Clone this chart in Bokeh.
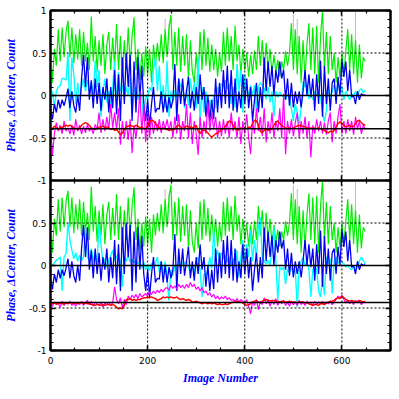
from bokeh.plotting import figure
from bokeh.layouts import column
from bokeh.models import FixedTicker, Span, LinearAxis, Range1d
from bokeh.embed import file_html
from bokeh.resources import INLINE

# ---------------- data ----------------
image_number = list(range(0, 652, 4))

count_green = [
    0.5, 0.15, 0.55, 0.35, 0.78, 0.4, 0.8, 0.45, 0.75, 0.88,
    0.45, 0.8, 0.38, 0.72, 0.42, 0.78, 0.35, 0.75, 0.4, 0.62,
    0.3, 0.93, 0.4, 0.7, 0.28, 0.65, 0.35, 0.72, 0.25, 0.6,
    0.75, 0.3, 0.68, 0.35, 0.84, 0.3, 0.7, 0.22, 0.65, 0.3,
    0.8, 0.35, 0.7, 0.92, 0.3, 0.55, 0.18, 0.5, 0.22, 0.58,
    0.25, 0.55, 0.15, 0.6, 0.35, 0.62, 0.4, 0.72, 0.38, 0.78,
    0.45, 0.8, 0.95, 0.3, 0.75, 0.35, 0.8, 0.28, 0.7, 0.35,
    0.72, 0.2, 0.65, 0.28, 0.15, 0.5, 0.2, 0.75, 0.3, 0.78,
    0.35, 0.68, 0.28, 0.6, 0.3, 0.55, 0.22, 0.5, 0.28, 0.75,
    0.35, 0.8, 0.4, 0.7, 0.3, 0.82, 0.4, 0.6, 0.25, 0.55,
    0.3, 0.5, 0.22, 0.48, 0.25, 0.53, 0.3, 0.7, 0.35, 0.65,
    0.28, 0.62, 0.3, 0.55, 0.25, 0.48, 0.28, 0.42, 0.22, 0.4,
    0.3, 0.52, 0.35, 0.5, 0.85, 0.3, 0.78, 0.25, 0.7, 0.15,
    0.65, 0.2, 0.6, 0.85, 0.3, 0.8, 0.25, 0.82, 0.15, 0.7,
    1.0, 0.3, 0.75, 0.25, 0.7, 0.3, 0.5, 0.15, 0.45, 0.2,
    0.5, 0.25, 0.52, 0.78, 0.3, 0.72, 0.25, 0.65, 0.15, 0.6, 0.2, 0.45, 0.4,
]

phase_blue = [
    -0.15, -0.28, -0.1, -0.2, -0.05, -0.15, -0.05, -0.12, -0.03, 0.08,
    -0.15, 0.05, -0.12, -0.2, 0.0, -0.18, 0.2, 0.48, 0.1, 0.45,
    -0.05, 0.18, -0.15, 0.2, -0.1, 0.15, -0.18, 0.1, -0.05, 0.2,
    -0.2, 0.1, -0.15, 0.3, -0.22, 0.25, -0.3, 0.45, -0.1, 0.5,
    0.1, 0.48, -0.3, 0.4, -0.2, 0.45, -0.05, 0.35, -0.1, -0.3,
    -0.05, -0.37, -0.1, 0.1, -0.2, -0.15, -0.16, 0.05, -0.2, 0.0,
    -0.2, -0.02, -0.15, -0.05, 0.37, -0.3, 0.2, -0.1, 0.2, -0.12,
    0.05, 0.22, -0.15, 0.05, -0.18, 0.1, -0.1, 0.25, -0.05, 0.1,
    -0.25, 0.0, -0.3, -0.05, -0.28, 0.2, -0.2, 0.15, -0.15, 0.3,
    -0.1, 0.35, -0.15, 0.3, -0.18, 0.2, -0.2, 0.05, -0.15, 0.25,
    -0.1, 0.2, -0.15, 0.1, -0.3, -0.05, 0.15, -0.2, 0.1, -0.15,
    0.45, 0.05, 0.4, 0.1, 0.35, 0.0, 0.3, 0.15, 0.4, 0.2,
    0.3, -0.05, 0.2, -0.12, 0.15, -0.14, 0.05, -0.1, 0.05, -0.14,
    0.05, 0.3, 0.0, 0.25, -0.02, 0.2, -0.18, 0.25, -0.1, 0.41,
    -0.25, 0.35, -0.1, 0.2, -0.18, 0.15, 0.2, -0.1, 0.22, 0.0,
    0.41, 0.22, 0.4, 0.05, 0.3, -0.02, 0.0, -0.1, 0.05, -0.05, 0.02, 0.0, 0.01,
]

cyan_top = [
    -0.05, 0.05, -0.15, 0.05, 0.1, 0.12, 0.2, 0.2, 0.18, 0.5,
    -0.3, 0.45, 0.25, -0.1, 0.15, -0.05, 0.1, 0.2, 0.05, 0.18,
    0.05, 0.15, -0.02, 0.41, 0.1, 0.3, -0.25, 0.05, 0.2, -0.08,
    0.05, -0.18, 0.08, 0.4, -0.1, 0.28, 0.05, 0.12, -0.05, 0.1,
    0.0, 0.2, -0.22, 0.05, 0.1, -0.05, 0.08, -0.02, -0.3, 0.0,
    -0.05, 0.1, 0.05, 0.3, 0.45, 0.05, 0.35, -0.1, 0.12, -0.15,
    0.41, -0.25, 0.05, -0.08, 0.06, -0.02, 0.2, 0.1, 0.15, -0.15,
    0.08, -0.12, 0.2, 0.0, 0.15, -0.15, 0.45, -0.33, 0.1, -0.2,
    0.05, -0.22, -0.05, -0.2, 0.0, -0.15, 0.1, 0.05, 0.14, 0.1,
    0.18, 0.08, 0.14, -0.1, 0.1, -0.14, 0.37, 0.05, 0.3, -0.2,
    0.25, 0.1, -0.02, 0.12, 0.0, 0.12, -0.18, 0.1, 0.15, 0.12,
    0.08, -0.05, 0.1, -0.08, 0.05, -0.25, 0.05, -0.02, 0.04, 0.0,
    -0.02, -0.05, 0.02, -0.04, -0.15, -0.3, -0.1, -0.2, -0.33, -0.15,
    0.16, 0.1, 0.15, -0.04, 0.0, -0.05, 0.05, 0.0, 0.04, -0.02,
    -0.2, -0.31, -0.18, 0.08, -0.02, 0.05, 0.12, 0.02, 0.14, 0.05,
    0.1, -0.05, 0.05, 0.0, -0.05, 0.02, 0.0, 0.05, -0.02, 0.06, 0.08, 0.03, 0.06,
]

cyan_bottom = [
    0.02, 0.0, 0.03, 0.06, 0.08, 0.1, -0.3, 0.1, 0.14, 0.5,
    0.3, 0.18, 0.08, 0.15, 0.05, 0.12, 0.06, 0.1, 0.45, 0.1,
    0.05, 0.2, 0.05, 0.15, 0.04, 0.5, 0.25, 0.02, 0.08, -0.02,
    0.06, 0.12, 0.18, 0.05, 0.1, 0.14, 0.04, -0.25, 0.1, 0.05,
    0.12, 0.04, 0.07, 0.03, 0.06, 0.02, 0.05, -0.03, 0.04, -0.05,
    0.0, -0.06, 0.03, -0.04, 0.02, 0.1, -0.08, 0.05, -0.1, 0.05,
    -0.15, -0.41, -0.05, -0.12, 0.0, -0.05, 0.05, -0.02, 0.04, 0.02,
    0.05, -0.02, -0.08, 0.0, -0.1, 0.05, 0.1, -0.05, -0.37, -0.1,
    -0.12, -0.05, 0.1, -0.04, 0.41, 0.1, 0.18, 0.05, 0.15, 0.08,
    0.12, 0.04, 0.1, 0.0, 0.08, -0.02, 0.18, -0.14, 0.1, 0.3,
    0.05, 0.25, 0.1, 0.41, 0.05, 0.3, 0.08, 0.45, 0.57, 0.1,
    0.05, 0.02, 0.06, 0.0, 0.2, 0.45, 0.05, -0.41, -0.02, -0.05,
    -0.02, -0.22, -0.04, -0.08, -0.02, -0.1, -0.05, -0.49, -0.02, 0.05,
    0.1, 0.0, 0.04, -0.04, -0.37, -0.05, 0.0, -0.05, -0.3, -0.37,
    -0.15, -0.35, 0.1, 0.02, 0.08, -0.33, 0.05, 0.1, 0.02, 0.08,
    0.04, 0.02, -0.02, 0.01, -0.03, -0.05, 0.0, -0.06, -0.02, 0.05, 0.1, 0.06, 0.02,
]

magenta_top = [
    -0.35, -0.7, -0.45, -0.32, -0.42, -0.35, -0.45, -0.3, -0.42, -0.38,
    -0.45, -0.35, -0.47, -0.28, -0.42, -0.35, -0.45, -0.36, -0.44, -0.34,
    -0.42, -0.38, -0.45, -0.34, -0.4, -0.2, -0.44, -0.28, -0.42, -0.25,
    -0.4, -0.1, -0.38, -0.2, -0.4, -0.15, -0.58, -0.3, -0.5, -0.3,
    -0.52, -0.28, -0.68, -0.35, -0.5, -0.3, 0.05, -0.45, -0.1, -0.55,
    -0.2, -0.5, -0.25, -0.45, -0.3, -0.42, -0.28, -0.44, -0.3, -0.4,
    -0.28, -0.42, -0.3, -0.5, -0.25, -0.45, -0.22, -0.52, -0.3, -0.42,
    -0.1, -0.5, -0.2, -0.57, -0.3, -0.45, -0.7, -0.25, -0.5, -0.3,
    -0.45, -0.08, -0.42, -0.2, -0.4, -0.25, -0.5, -0.3, -0.48, -0.28,
    -0.45, -0.3, -0.5, -0.2, -0.42, -0.3, -0.5, -0.25, -0.57, -0.3,
    -0.45, -0.22, -0.5, -0.69, -0.3, -0.45, -0.15, -0.42, -0.25, -0.48,
    -0.15, -0.55, -0.3, -0.45, -0.2, -0.5, -0.3, -0.42, -0.15, -0.5,
    0.02, -0.69, -0.3, -0.45, -0.28, -0.48, -0.32, -0.2, -0.5, -0.3,
    -0.45, -0.25, -0.5, -0.3, -0.73, -0.35, -0.45, -0.28, -0.42, -0.3,
    -0.45, -0.32, -0.46, -0.3, -0.2, -0.55, -0.3, -0.45, -0.25, -0.1,
    -0.45, -0.3, -0.45, -0.28, -0.42, -0.3, -0.46, -0.25, -0.4, -0.3, -0.45, -0.35, -0.4,
]

red_top = [
    -0.38, -0.39, -0.36, -0.38, -0.4, -0.37, -0.38, -0.36, -0.35, -0.36,
    -0.35, -0.36, -0.38, -0.39, -0.4, -0.38, -0.35, -0.33, -0.32, -0.33,
    -0.35, -0.38, -0.39, -0.4, -0.39, -0.37, -0.37, -0.36, -0.38, -0.37,
    -0.38, -0.4, -0.39, -0.41, -0.4, -0.43, -0.46, -0.44, -0.4, -0.37,
    -0.36, -0.35, -0.36, -0.37, -0.35, -0.36, -0.38, -0.37, -0.39, -0.39,
    -0.36, -0.31, -0.29, -0.3, -0.33, -0.35, -0.38, -0.4, -0.38, -0.39,
    -0.4, -0.41, -0.4, -0.41, -0.39, -0.36, -0.35, -0.37, -0.39, -0.38,
    -0.36, -0.37, -0.37, -0.38, -0.37, -0.35, -0.42, -0.45, -0.41, -0.41,
    -0.42, -0.44, -0.47, -0.49, -0.47, -0.45, -0.44, -0.42, -0.4, -0.39,
    -0.36, -0.33, -0.3, -0.31, -0.35, -0.38, -0.41, -0.4, -0.38, -0.39,
    -0.38, -0.39, -0.37, -0.38, -0.33, -0.29, -0.3, -0.35, -0.42, -0.44,
    -0.41, -0.4, -0.41, -0.39, -0.4, -0.35, -0.31, -0.3, -0.33, -0.35,
    -0.37, -0.38, -0.39, -0.38, -0.39, -0.38, -0.37, -0.36, -0.35, -0.36,
    -0.36, -0.37, -0.38, -0.39, -0.38, -0.39, -0.38, -0.39, -0.38, -0.39,
    -0.4, -0.41, -0.43, -0.44, -0.42, -0.43, -0.41, -0.37, -0.33, -0.31,
    -0.33, -0.35, -0.37, -0.36, -0.35, -0.37, -0.36, -0.33, -0.3, -0.29, -0.32, -0.34, -0.35,
]

magenta_bottom = [
    -0.45, -0.48, -0.43, -0.46, -0.44, -0.49, -0.42, -0.47, -0.44, -0.45,
    -0.42, -0.47, -0.44, -0.48, -0.43, -0.46, -0.42, -0.47, -0.44, -0.41,
    -0.46, -0.42, -0.48, -0.43, -0.45, -0.47, -0.43, -0.49, -0.44, -0.46,
    -0.43, -0.47, -0.44, -0.25, -0.4, -0.45, -0.38, -0.5, -0.4, -0.46,
    -0.36, -0.4, -0.35, -0.38, -0.34, -0.39, -0.33, -0.37, -0.35, -0.33,
    -0.36, -0.31, -0.34, -0.3, -0.33, -0.29, -0.32, -0.28, -0.31, -0.27,
    -0.26, -0.29, -0.23, -0.27, -0.24, -0.28, -0.22, -0.26, -0.23, -0.27,
    -0.22, -0.26, -0.2, -0.25, -0.22, -0.28, -0.25, -0.3, -0.26, -0.32,
    -0.3, -0.35, -0.32, -0.37, -0.34, -0.39, -0.36, -0.4, -0.37, -0.39,
    -0.36, -0.4, -0.38, -0.41, -0.4, -0.42, -0.39, -0.43, -0.4, -0.42,
    -0.45, -0.4, -0.48, -0.57, -0.42, -0.47, -0.4, -0.52, -0.42, -0.46,
    -0.38, -0.45, -0.4, -0.48, -0.41, -0.46, -0.39, -0.47, -0.42, -0.45,
    -0.41, -0.47, -0.43, -0.48, -0.42, -0.46, -0.43, -0.47, -0.41, -0.46,
    -0.43, -0.47, -0.42, -0.45, -0.43, -0.47, -0.42, -0.46, -0.43, -0.45,
    -0.42, -0.46, -0.43, -0.45, -0.42, -0.46, -0.43, -0.4, -0.36, -0.38,
    -0.35, -0.4, -0.44, -0.41, -0.45, -0.42, -0.46, -0.41, -0.44, -0.42, -0.46, -0.43, -0.44,
]

red_bottom = [
    -0.45, -0.45, -0.44, -0.45, -0.45, -0.44, -0.45, -0.45, -0.44, -0.45,
    -0.44, -0.44, -0.45, -0.44, -0.45, -0.44, -0.44, -0.45, -0.44, -0.45,
    -0.45, -0.46, -0.46, -0.47, -0.46, -0.46, -0.47, -0.46, -0.47, -0.46,
    -0.46, -0.47, -0.46, -0.47, -0.49, -0.51, -0.5, -0.51, -0.47, -0.4,
    -0.4, -0.39, -0.41, -0.4, -0.41, -0.4, -0.4, -0.39, -0.38, -0.38,
    -0.37, -0.38, -0.37, -0.38, -0.39, -0.41, -0.4, -0.39, -0.37, -0.38,
    -0.37, -0.38, -0.37, -0.38, -0.38, -0.37, -0.39, -0.4, -0.39, -0.4,
    -0.41, -0.4, -0.41, -0.43, -0.43, -0.42, -0.43, -0.44, -0.45, -0.44,
    -0.44, -0.45, -0.44, -0.45, -0.44, -0.45, -0.46, -0.45, -0.46, -0.46,
    -0.45, -0.46, -0.45, -0.44, -0.43, -0.43, -0.42, -0.43, -0.43, -0.44,
    -0.46, -0.47, -0.46, -0.45, -0.43, -0.42, -0.41, -0.43, -0.44, -0.42,
    -0.41, -0.4, -0.41, -0.42, -0.41, -0.41, -0.42, -0.42, -0.43, -0.42,
    -0.42, -0.43, -0.43, -0.42, -0.43, -0.43, -0.43, -0.44, -0.43, -0.43,
    -0.43, -0.44, -0.44, -0.45, -0.46, -0.47, -0.46, -0.46, -0.47, -0.45,
    -0.45, -0.46, -0.44, -0.43, -0.42, -0.42, -0.41, -0.39, -0.38, -0.39,
    -0.36, -0.38, -0.4, -0.41, -0.42, -0.41, -0.42, -0.43, -0.42, -0.41, -0.42, -0.43, -0.42,
]

# thin grey spikes (raw count) visible behind the green trace
gray_x = [236, 244, 500, 508, 628]
gray_lo = [0.5, 0.5, 0.5, 0.5, 0.6]
gray_hi = [0.9, 0.85, 0.95, 0.9, 1.0]

ref_level_top = -0.39
ref_level_bottom = -0.435
zero_level = 0.0
dotted_levels = [-0.5, 0.5]
dotted_x = [200, 400, 600]

y_ticks_top = [-1, -0.5, 0, 0.5, 1]
y_ticks_bottom = [-1, -0.5, 0, 0.5]       # "1" is hidden under the top panel's "-1"
y_minor = [-0.9, -0.8, -0.7, -0.6, -0.4, -0.3, -0.2, -0.1,
           0.1, 0.2, 0.3, 0.4, 0.6, 0.7, 0.8, 0.9]
x_ticks = [0, 200, 400, 600]
x_minor = [50, 100, 150, 250, 300, 350, 450, 500, 550, 650, 700]

y_label = "Phase, \u0394Center, Count"
x_label = "Image Number"

TICK_FONT = "DejaVu Sans"
LABEL_FONT = "Liberation Serif"
OVERLAP = 6  # px by which the lower panel slides up under the upper one's border


def style_axis(ax, ticks, minor, show_labels):
    ax.ticker = FixedTicker(ticks=ticks, minor_ticks=minor)
    ax.axis_line_width = 2
    ax.axis_line_color = "black"
    ax.major_tick_in = 5
    ax.major_tick_out = 0
    ax.minor_tick_in = 3
    ax.minor_tick_out = 0
    ax.major_tick_line_width = 1.5
    ax.minor_tick_line_width = 1.2
    ax.major_tick_line_color = "black"
    ax.minor_tick_line_color = "black"
    if show_labels:
        ax.major_label_text_font = TICK_FONT
        ax.major_label_text_font_size = "9px"
        ax.major_label_text_color = "black"
    else:
        ax.major_label_text_font_size = "0px"
        ax.major_label_text_alpha = 0
        ax.major_label_text_color = None
        ax.major_label_standoff = 0


def make_panel(cyan, magenta, red, ref_level, is_bottom):
    kw = {}
    if is_bottom:
        kw["styles"] = {"margin-top": f"-{OVERLAP}px"}
    p = figure(
        frame_width=340, frame_height=170,
        x_range=Range1d(0, 700), y_range=Range1d(-1, 1),
        output_backend="svg", toolbar_location=None,
        x_axis_location=None, y_axis_location=None,
        min_border_left=49, min_border_right=2,
        min_border_top=0 if is_bottom else 10,
        min_border_bottom=0 if is_bottom else OVERLAP,
        background_fill_color="white",
        border_fill_color="white", border_fill_alpha=0.0 if is_bottom else 1.0,
        **kw,
    )
    p.outline_line_color = "black"
    p.outline_line_width = 2
    p.xgrid.visible = False
    p.ygrid.visible = False

    yl = LinearAxis()
    style_axis(yl, y_ticks_bottom if is_bottom else y_ticks_top, y_minor, True)
    yl.major_label_overrides = {1: "1", 0.5: "0.5", 0: "0", -0.5: "-0.5", -1: "-1"}
    yl.major_label_standoff = 4
    yl.axis_label = y_label
    yl.axis_label_text_font = LABEL_FONT
    yl.axis_label_text_font_style = "bold italic"
    yl.axis_label_text_font_size = "12px"
    yl.axis_label_text_color = "#0000ff"
    yl.axis_label_standoff = 8
    p.add_layout(yl, "left")

    yr = LinearAxis()
    style_axis(yr, y_ticks_top, y_minor, False)
    p.add_layout(yr, "right")

    xa = LinearAxis()
    style_axis(xa, x_ticks, x_minor, False)
    p.add_layout(xa, "above")

    xb = LinearAxis()
    if is_bottom:
        style_axis(xb, x_ticks, x_minor, True)
        xb.major_label_overrides = {0: "0", 200: "200", 400: "400", 600: "600"}
        xb.major_label_standoff = 6
        xb.axis_label = x_label
        xb.axis_label_text_font = LABEL_FONT
        xb.axis_label_text_font_style = "bold italic"
        xb.axis_label_text_font_size = "12px"
        xb.axis_label_text_color = "#0000ff"
        xb.axis_label_standoff = 4
    else:
        style_axis(xb, x_ticks, x_minor, False)
    p.add_layout(xb, "below")

    # data
    p.segment(x0=gray_x, y0=gray_lo, x1=gray_x, y1=gray_hi,
              line_color="#a8a8a8", line_width=0.8)
    p.line(image_number[:len(count_green)], count_green,
           line_color="#00ee00", line_width=1.2)
    p.line(image_number[:len(cyan)], cyan, line_color="#00ffff", line_width=1.4)
    p.line(image_number[:len(phase_blue)], phase_blue,
           line_color="#0000f0", line_width=1.3)
    p.line(image_number[:len(magenta)], magenta,
           line_color="#ff00ff", line_width=1.2)
    p.line(image_number[:len(red)], red, line_color="#ff0000", line_width=1.4)

    # reference lines (drawn over data)
    for xv in dotted_x:
        p.add_layout(Span(location=xv, dimension="height", line_color="black",
                          line_width=1, line_dash="2 2"))
    for yv in dotted_levels:
        p.add_layout(Span(location=yv, dimension="width", line_color="black",
                          line_width=1, line_dash="2 2"))
    p.add_layout(Span(location=zero_level, dimension="width",
                      line_color="black", line_width=1.5))
    p.add_layout(Span(location=ref_level, dimension="width",
                      line_color="black", line_width=1.5))
    return p


top = make_panel(cyan_top, magenta_top, red_top, ref_level_top, False)
bottom = make_panel(cyan_bottom, magenta_bottom, red_bottom, ref_level_bottom, True)

layout = column(top, bottom, spacing=0)
open("out.html", "w").write(file_html(layout, INLINE))
